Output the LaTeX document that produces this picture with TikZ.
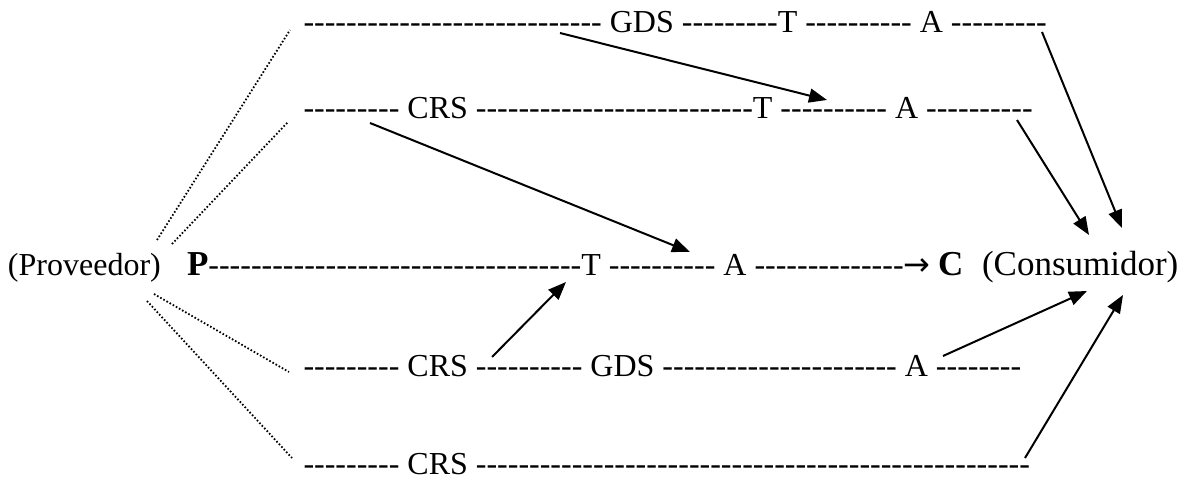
\documentclass[tikz,border=0pt]{standalone}
\usepackage{fontspec}
\setmainfont{Liberation Serif}
\newfontfamily\arrowfont{DejaVu Sans}
\usetikzlibrary{arrows.meta}
\ExplSyntaxOn
% a run of plain hyphens (kerned apart so no dash ligature forms)
\cs_new:Npn \dashrun #1 { \prg_replicate:nn {#1} { -\kern0pt\relax } }
\ExplSyntaxOff
\begin{document}
\begin{tikzpicture}[x=0.5pt,y=-0.5pt,
  txt/.style={inner sep=0pt, outer sep=0pt, anchor=base west,
              font=\fontsize{16}{19}\selectfont},
  bigtxt/.style={txt, font=\fontsize{17.5}{21}\selectfont},
  feed/.style={line width=0.9pt, dash pattern=on 0.8pt off 1pt},
  flow/.style={line width=1pt, -{Triangle[length=9pt,width=7pt]}}]
\useasboundingbox (0,0) rectangle (1189,480);

% channel rows
\node[txt] (row1) at (303.5,33)  {\dashrun{28} GDS \dashrun{9}T \dashrun{10} A \dashrun{9}};
\node[txt] (row2) at (303.5,119) {\dashrun{9} CRS \dashrun{26}T \dashrun{10} A \dashrun{10}};
\node[txt] (prov) at (8,276) {(Proveedor)};
\node[txt] (main) at (187,276) {{\bfseries\fontsize{17.5}{21}\selectfont P}\dashrun{35}T \dashrun{10} A \dashrun{14}{\arrowfont →}};
\node[bigtxt] (cons) at (938,276) {\bfseries C};
\node[bigtxt] (consname) at (982,276) {(Consumidor)};
\node[txt] (row4) at (303.5,377) {\dashrun{9} CRS \dashrun{10} GDS \dashrun{22} A \dashrun{8}};
\node[txt] (row5) at (303.5,474) {\dashrun{9} CRS \dashrun{52}};

% fan-out from the supplier
\coordinate (pu1) at (157,240);
\coordinate (pu2) at (172,244);
\coordinate (pd2) at (154,294);
\coordinate (pd1) at (147,301);
\coordinate (s1) at (290,30);
\coordinate (s2) at (288,122);
\coordinate (s4) at (289,372);
\coordinate (s5) at (292,458);
\draw[feed] (pu1) -- (s1);
\draw[feed] (pu2) -- (s2);
\draw[feed] (pd2) -- (s4);
\draw[feed] (pd1) -- (s5);

% cross links between channels
\coordinate (gdsout) at (560,33);
\coordinate (r2a) at (827,100);
\coordinate (crs2out) at (370,123);
\coordinate (mainA) at (690,252);
\coordinate (crs4out) at (492,357);
\coordinate (mainT) at (566,282);
\draw[flow] (gdsout) -- (r2a);
\draw[flow] (crs2out) -- (mainA);
\draw[flow] (crs4out) -- (mainT);

% links into the consumer
\coordinate (r1end) at (1042,32);
\coordinate (r2end) at (1017,120);
\coordinate (r4end) at (943,356);
\coordinate (r5end) at (1025,458);
\coordinate (cin1) at (1122,228);
\coordinate (cin2) at (1089,235);
\coordinate (cin4) at (1087,291);
\coordinate (cin5) at (1123,295);
\draw[flow] (r1end) -- (cin1);
\draw[flow] (r2end) -- (cin2);
\draw[flow] (r4end) -- (cin4);
\draw[flow] (r5end) -- (cin5);
\end{tikzpicture}
\end{document}
